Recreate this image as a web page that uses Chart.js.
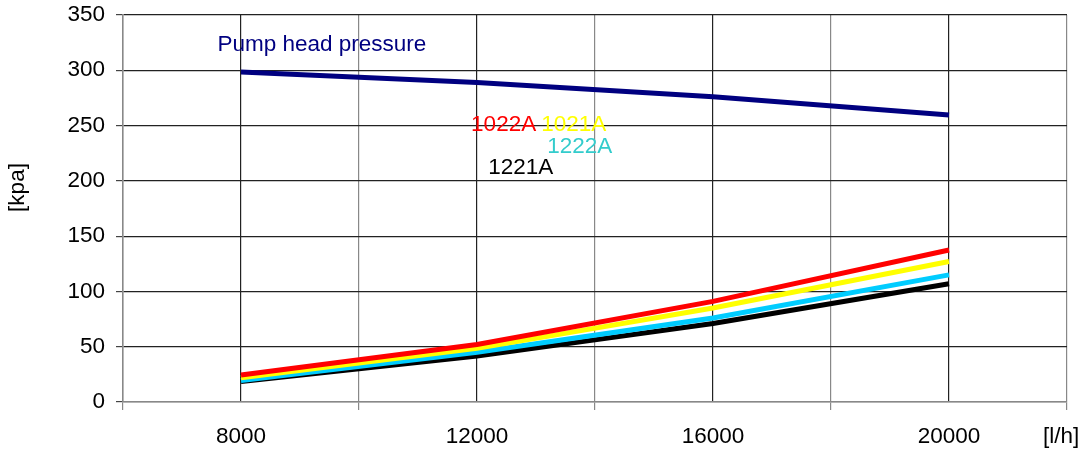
<!DOCTYPE html>
<html>
<head>
<meta charset="utf-8">
<script src="https://cdn.jsdelivr.net/npm/chart.js@4/dist/chart.umd.min.js"></script>
<style>
  html, body { margin: 0; padding: 0; background: #fff; }
  #wrap { width: 1086px; height: 450px; }
</style>
</head>
<body>
<div id="wrap"><canvas id="chart"></canvas></div>
<script>
// flow [l/h]
var flow = [8000, 12000, 16000, 20000];
var xTickLabels = [8000, 12000, 16000, 20000];
var yTicks = [0, 50, 100, 150, 200, 250, 300, 350];

// pressure [kpa]
var pumpHead = [298.5, 289, 276, 259.5];
var v1022A = [24.5, 52, 91, 137.5];
var v1021A = [22, 48.5, 85, 127];
var v1222A = [19.5, 45, 76, 115];
var v1221A = [18.5, 41.5, 71, 107];

var FONT = '"Liberation Sans", Arial, sans-serif';
var FSIZE = 22.5;

function pts(ys) {
  return flow.map(function (x, i) { return { x: x, y: ys[i] }; });
}

// free text labels placed in data space
var textLabels = [
  { text: 'Pump head pressure', x: 7600, y: 323, color: '#000080' },
  { text: '1022A', x: 11900, y: 250.5, color: '#ff0000' },
  { text: '1021A', x: 13090, y: 250.5, color: '#ffff00' },
  { text: '1222A', x: 13190, y: 230.5, color: '#33cccc' },
  { text: '1221A', x: 12190, y: 211.5, color: '#000000' }
];

var labelPlugin = {
  id: 'labels',
  afterDatasetsDraw: function (chart) {
    var c = chart.ctx, xs = chart.scales.x, ys = chart.scales.y;
    c.save();
    c.font = FSIZE + 'px ' + FONT;
    c.textBaseline = 'middle';
    c.textAlign = 'left';
    textLabels.forEach(function (l) {
      c.fillStyle = l.color;
      c.fillText(l.text, xs.getPixelForValue(l.x), ys.getPixelForValue(l.y));
    });
    c.fillStyle = '#000';
    c.fillText('[l/h]', chart.chartArea.right - 24, xs.top + 35);
    // y axis title, sits a bit above the middle like the original
    c.translate(18, ys.getPixelForValue(194));
    c.rotate(-Math.PI / 2);
    c.textAlign = 'center';
    c.fillText('[kpa]', 0, 0);
    c.restore();
  }
};

function isLabelled(v) { return xTickLabels.indexOf(v) >= 0; }

function line(data, color) {
  return {
    data: pts(data),
    borderColor: color,
    backgroundColor: color,
    borderWidth: 5,
    pointRadius: 0,
    tension: 0,
    fill: false
  };
}

new Chart(document.getElementById('chart').getContext('2d'), {
  type: 'line',
  data: {
    datasets: [
      line(pumpHead, '#000080'),
      line(v1022A, '#ff0000'),
      line(v1021A, '#ffff00'),
      line(v1222A, '#00ccff'),
      line(v1221A, '#000000')
    ]
  },
  options: {
    responsive: true,
    maintainAspectRatio: false,
    animation: false,
    layout: { padding: { top: 15, right: 19, left: 0, bottom: 0 } },
    plugins: { legend: { display: false }, tooltip: { enabled: false } },
    scales: {
      x: {
        type: 'linear',
        min: 6000,
        max: 22000,
        afterBuildTicks: function (s) {
          var t = [];
          for (var v = 6000; v <= 22000; v += 2000) t.push({ value: v });
          s.ticks = t;
        },
        afterFit: function (s) { s.height = 48; s.paddingLeft = 0; s.paddingRight = 0; },
        ticks: {
          autoSkip: false,
          maxRotation: 0,
          padding: 13,
          color: '#000',
          font: { family: FONT, size: FSIZE },
          callback: function (v) { return isLabelled(v) ? String(v) : ''; }
        },
        grid: {
          tickLength: 8,
          color: function (ctx) {
            return ctx.tick && isLabelled(ctx.tick.value) ? '#222' : '#888';
          },
          tickColor: function (ctx) {
            return ctx.tick && isLabelled(ctx.tick.value) ? 'rgba(0,0,0,0)' : '#888';
          },
          lineWidth: 1.2
        },
        border: { color: '#888', width: 1.5 }
      },
      y: {
        min: 0,
        max: 350,
        afterBuildTicks: function (s) {
          s.ticks = yTicks.map(function (v) { return { value: v }; });
        },
        afterFit: function (s) { s.width = 123; s.paddingTop = 0; s.paddingBottom = 0; },
        ticks: {
          padding: 11,
          color: '#000',
          font: { family: FONT, size: FSIZE }
        },
        grid: {
          tickLength: 7,
          color: function (ctx) {
            return ctx.tick && ctx.tick.value === 0 ? '#888' : '#222';
          },
          tickColor: '#444',
          lineWidth: 1.2
        },
        border: { color: '#888', width: 1.5 }
      }
    }
  },
  plugins: [labelPlugin]
});
</script>
</body>
</html>
